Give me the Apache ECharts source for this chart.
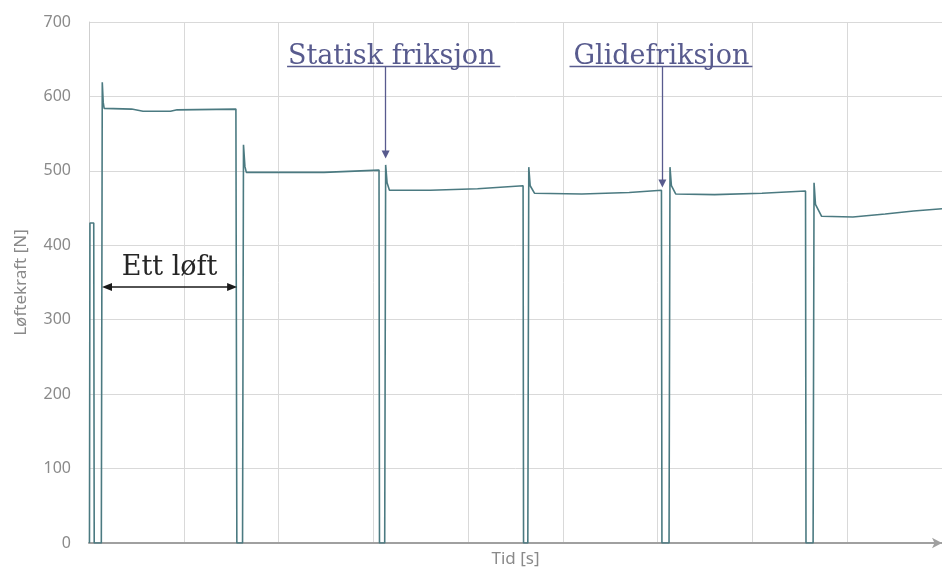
<!DOCTYPE html>
<html>
<head>
<meta charset="utf-8">
<script src="https://cdn.jsdelivr.net/npm/echarts@6/dist/echarts.min.js"></script>
<style>
  html, body { margin: 0; padding: 0; background: #fff; }
  #chart { width: 942px; height: 569px; }
</style>
</head>
<body>
<div id="chart"></div>
<script>
// time in grid units (one vertical gridline = 10), force in N
const tid = [
  0.05, 0.1, 0.5, 0.55,
  1.3, 1.4, 1.5, 1.6, 4.5, 5.7, 8.6, 9.3, 15.5, 15.6,
  16.2, 16.3, 16.45, 16.6, 24.8, 25.0, 30.6, 30.65,
  31.2, 31.3, 31.45, 31.7, 36, 41, 45.8, 45.85,
  46.3, 46.4, 46.55, 47.0, 52, 57, 60.4, 60.45,
  61.2, 61.3, 61.45, 61.9, 66, 71, 75.6, 75.65,
  76.4, 76.5, 76.65, 77.3, 80.6, 84, 87, 90
];
const kraft = [
  0, 430, 430, 0,
  0, 619, 592, 584, 583, 580, 580, 582, 583, 0,
  0, 535, 506, 498, 498, 500, 501, 0,
  0, 508, 484, 474, 474, 476, 480, 0,
  0, 505, 480, 470, 469, 471, 474, 0,
  0, 505, 480, 469, 468, 470, 473, 0,
  0, 484, 455, 439, 438, 442, 446, 449
];
const yTicks = [0, 100, 200, 300, 400, 500, 600, 700];

// annotations: label, arrow x, arrow head centre (N), underline span
const pointers = [
  { text: 'Statisk friksjon', x: 31.3, tip: 522, from: 20.9, to: 43.4, shift: 6 },
  { text: 'Glidefriksjon', x: 60.5, tip: 483, from: 50.7, to: 70.0, shift: -1 }
];
const pointerLevel = 640;
const lift = { text: 'Ett løft', from: 1.9, to: 15.1, level: 344 };

const noteColor = '#585b8e';
const gridColor = '#d9d9d9';
const axisText = '#8a8a8a';

const chart = echarts.init(document.getElementById('chart'), null, { renderer: 'canvas' });

const markData = [];
pointers.forEach((p) => {
  markData.push([
    {
      coord: [p.x, pointerLevel],
      symbol: 'none',
      label: {
        show: true,
        position: 'start',
        distance: -4,
        offset: [p.shift, 0],
        formatter: p.text,
        color: noteColor,
        fontFamily: 'DejaVu Serif',
        fontSize: 27
      },
      lineStyle: { color: noteColor, width: 1.3, type: 'solid' }
    },
    { coord: [p.x, p.tip], symbol: 'triangle', symbolSize: [8, 8], symbolRotate: 180 }
  ]);
  markData.push([
    { coord: [p.from, pointerLevel], symbol: 'none', label: { show: false },
      lineStyle: { color: noteColor, width: 1.4, type: 'solid' } },
    { coord: [p.to, pointerLevel], symbol: 'none' }
  ]);
});
markData.push([
  {
    coord: [lift.from, lift.level],
    symbol: 'triangle',
    symbolSize: [8, 10],
    label: {
      show: true,
      position: 'insideMiddleTop',
      distance: 5,
      formatter: lift.text,
      color: '#262626',
      fontFamily: 'DejaVu Serif',
      fontSize: 27
    },
    lineStyle: { color: '#1a1a1a', width: 1.6, type: 'solid' }
  },
  { coord: [lift.to, lift.level], symbol: 'triangle', symbolSize: [8, 10] }
]);

chart.setOption({
  backgroundColor: '#ffffff',
  animation: false,
  grid: { left: 89, right: 0, top: 22, bottom: 26, containLabel: false, outerBoundsMode: 'none' },
  xAxis: {
    type: 'value',
    min: 0,
    max: 90,
    interval: 10,
    name: 'Tid [s]',
    nameLocation: 'middle',
    nameGap: 8,
    nameTextStyle: { color: axisText, fontFamily: 'Noto Sans', fontSize: 17, verticalAlign: 'top' },
    axisLine: { show: true, symbol: ['none', 'arrow'], symbolSize: [8, 10], lineStyle: { color: '#a0a0a0', width: 2 } },
    axisTick: { show: false },
    axisLabel: { show: false },
    splitLine: { show: true, lineStyle: { color: gridColor, width: 1 } }
  },
  yAxis: {
    type: 'value',
    min: 0,
    max: 700,
    interval: 100,
    name: 'Løftekraft [N]',
    nameLocation: 'middle',
    nameGap: 59,
    nameTextStyle: { color: axisText, fontFamily: 'Noto Sans', fontSize: 17 },
    axisLine: { show: true, lineStyle: { color: '#cfcfcf', width: 1 } },
    axisTick: { show: false },
    axisLabel: {
      color: axisText,
      fontFamily: 'Noto Sans',
      fontSize: 16,
      margin: 18,
      formatter: (v) => (yTicks.includes(v) ? String(v) : '')
    },
    splitLine: { show: true, lineStyle: { color: gridColor, width: 1 } }
  },
  series: [
    {
      type: 'line',
      data: tid.map((t, i) => [t, kraft[i]]),
      showSymbol: false,
      symbol: 'none',
      lineStyle: { color: '#4b7a81', width: 1.6 },
      markLine: {
        silent: true,
        animation: false,
        symbol: 'none',
        data: markData
      }
    }
  ]
});
</script>
</body>
</html>
